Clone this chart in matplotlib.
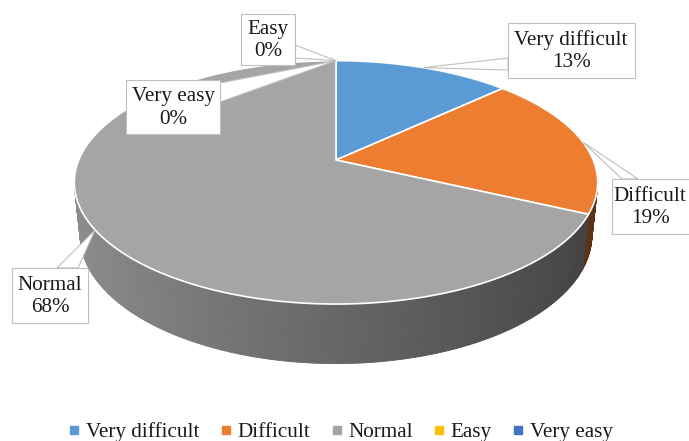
import numpy as np
import matplotlib.pyplot as plt
from matplotlib.patches import Polygon, Rectangle
from matplotlib.lines import Line2D

plt.rcParams['font.family'] = ['Liberation Serif', 'DejaVu Serif']

# data
categories = ['Very difficult', 'Difficult', 'Normal', 'Easy', 'Very easy']
shares = [13, 19, 68, 0, 0]
pct_labels = ['13%', '19%', '68%', '0%', '0%']
colors = ['#5B9BD5', '#ED7D31', '#A5A5A5', '#FFC000', '#4472C4']

# label boxes (x, y, w, h in px), text centre x, and where the callout pointer leaves the box
boxes = [(508, 23, 127, 55), (612, 179, 88, 55), (12, 268, 76, 55),
         (241, 14, 54, 51), (126, 80, 94, 54)]
text_x = [571, 650, 50, 268, 173]
pointer_base = [((508, 58), (508, 70)), ((622, 179), (638, 179)),
                ((57, 268), (78, 268)), ((295, 45), (295, 58)),
                ((220, 83), (220, 102))]

# simple perspective camera for the tilted disk
cx, cy = 336, 160
tilt = np.radians(27.2)
dist = 4.84
k = 1245
depth_h = 0.232
txt_col = '#1a1a1a'


def proj(t, z=0.0):
    # t = clockwise angle from 12 o'clock
    x = np.sin(t)
    y = np.cos(t)
    d = dist + y * np.cos(tilt) - z * np.sin(tilt)
    return cx + k * x / d, cy - k * (y * np.sin(tilt) + z * np.cos(tilt)) / d


def shade(hexcol, f):
    r, g, b = [int(hexcol[i:i + 2], 16) / 255 for i in (1, 3, 5)]
    return (r * f, g * f, b * f)


fig = plt.figure(figsize=(6.89, 4.41), dpi=100)
ax = fig.add_axes([0, 0, 1, 1])
ax.set_xlim(0, 689)
ax.set_ylim(441, 0)
ax.axis('off')

frac = np.array(shares, dtype=float) / sum(shares)
edges = np.concatenate([[0], np.cumsum(frac)]) * 2 * np.pi

# side walls, split in thin strips for the shading
for i in range(len(shares)):
    t0, t1 = edges[i], edges[i + 1]
    if t1 - t0 <= 0:
        continue
    n = int((t1 - t0) / 0.01) + 2
    ts = np.linspace(t0, t1, n)
    for a, b in zip(ts[:-1], ts[1:]):
        m = 0.5 * (a + b)
        if np.cos(m) > -0.15:
            continue
        f = 0.62 - 0.24 * np.sin(m)
        col = shade(colors[i], f)
        p = [proj(a), proj(b), proj(b, -depth_h), proj(a, -depth_h)]
        ax.add_patch(Polygon(p, closed=True, fc=col, ec=col, lw=0.6))

# top faces
for i in range(len(shares)):
    t0, t1 = edges[i], edges[i + 1]
    if t1 - t0 <= 0:
        continue
    ts = np.linspace(t0, t1, int((t1 - t0) / 0.01) + 2)
    xs, ys = proj(ts)
    pts = [(cx, cy)] + list(zip(xs, ys))
    ax.add_patch(Polygon(pts, closed=True, fc=colors[i], ec='white', lw=1.2, zorder=3))

# callouts
for i in range(len(shares)):
    mid = 0.5 * (edges[i] + edges[i + 1])
    tx, ty = proj(mid)
    (b0, b1) = pointer_base[i]
    ax.add_patch(Polygon([b0, (tx, ty), b1], closed=True, fc='white',
                         ec='#BFBFBF', lw=0.8, zorder=5))
    x, y, w, h = boxes[i]
    ax.add_patch(Rectangle((x, y), w, h, fc='white', ec='#BFBFBF', lw=0.8, zorder=6))
    ax.text(text_x[i], y + h / 2 + 1, categories[i] + '\n' + pct_labels[i],
            ha='center', va='center', fontsize=15.2, color=txt_col,
            linespacing=1.22, zorder=7)

handles = [Line2D([], [], marker='s', ls='', markersize=6, color=c) for c in colors]
fig.legend(handles, categories, loc='center', bbox_to_anchor=(341 / 689, 1 - 432 / 441),
           ncol=5, frameon=False, fontsize=15.2, handlelength=0.5,
           handletextpad=0.3, columnspacing=1.0, labelcolor=txt_col)

fig.savefig('out.png', dpi=100)
